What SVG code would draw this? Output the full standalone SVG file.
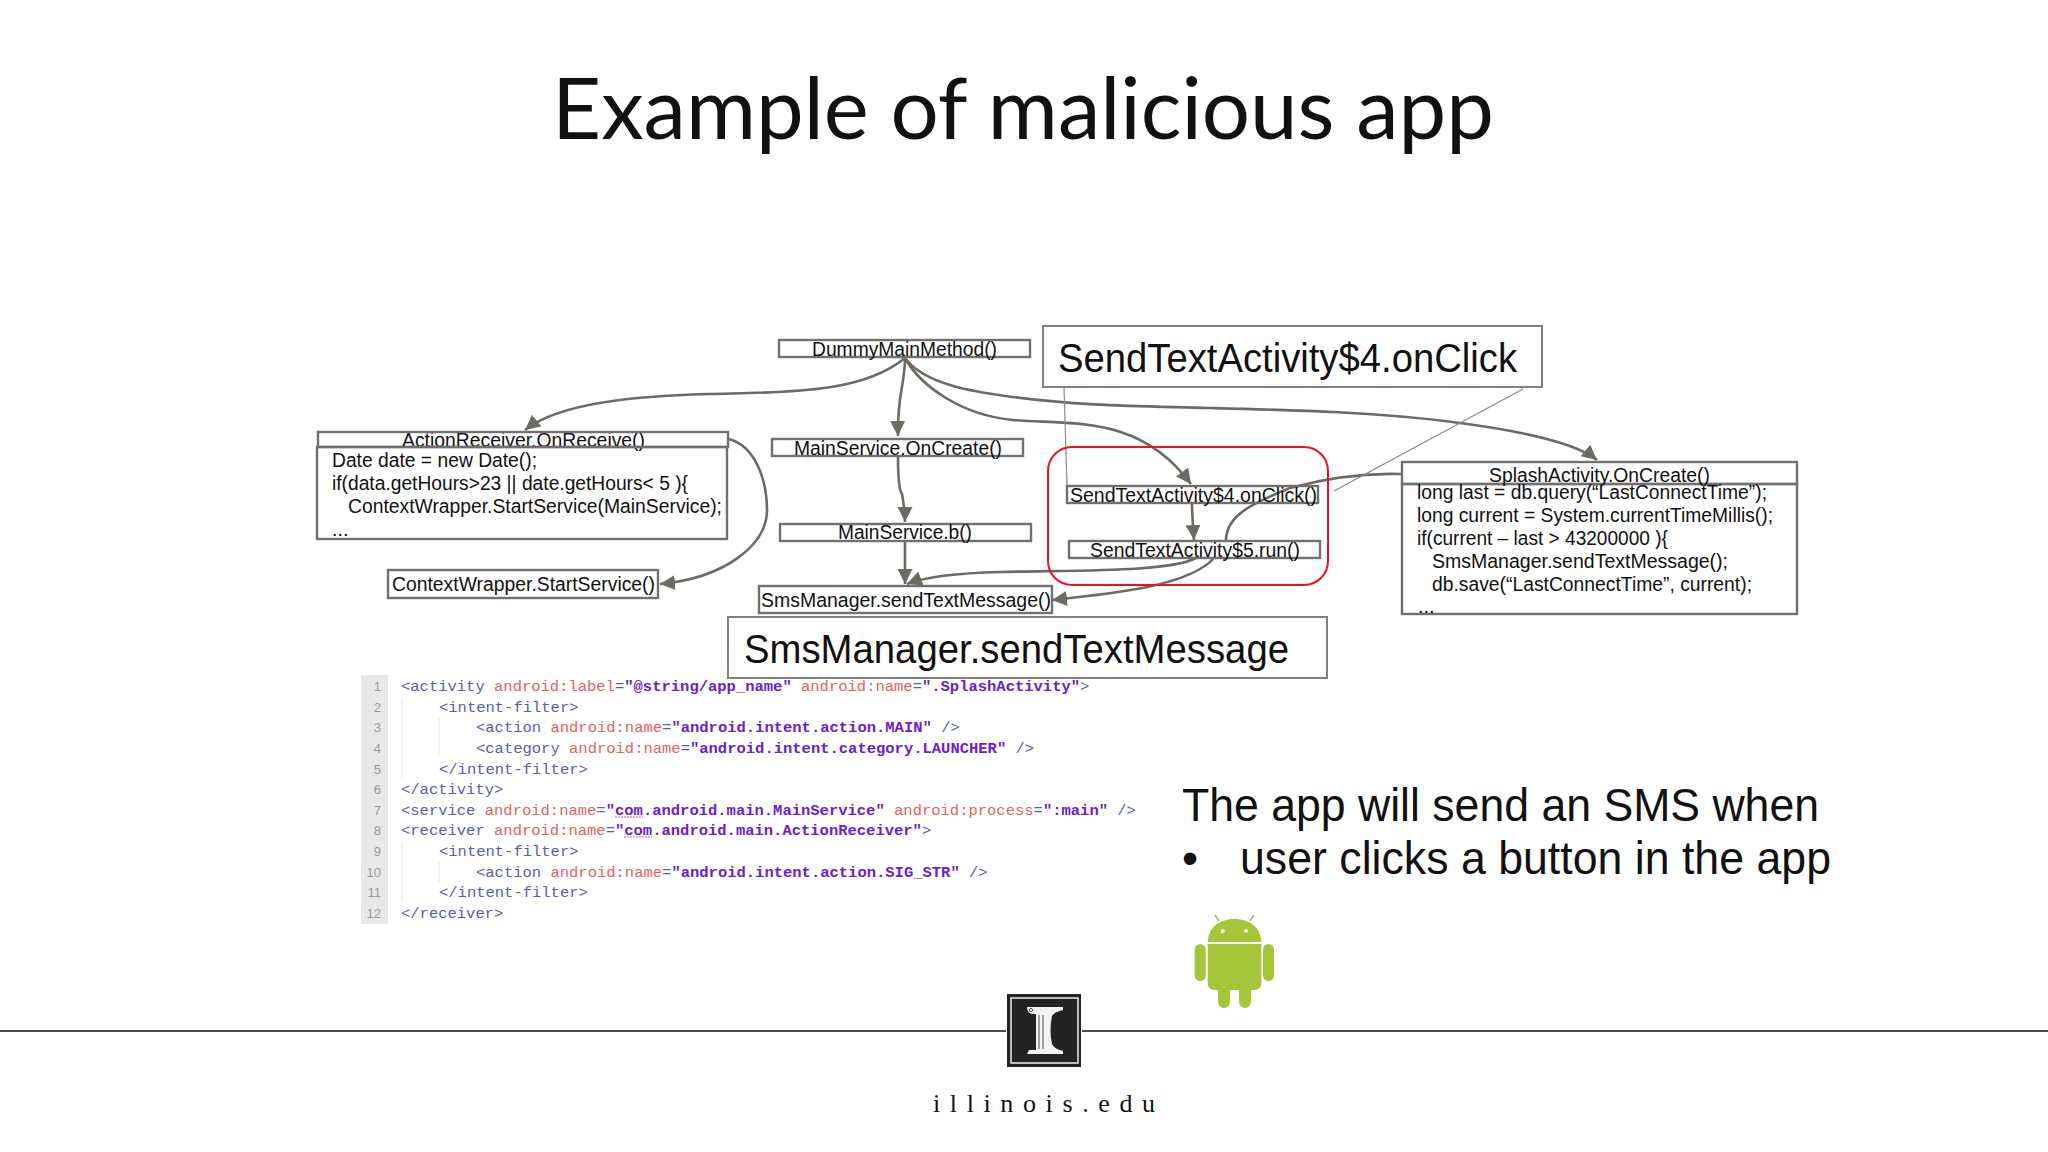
<svg xmlns="http://www.w3.org/2000/svg" width="2048" height="1152" viewBox="0 0 2048 1152">
<style>
text{font-family:"Liberation Sans",Arial,sans-serif;fill:#111}
.box{fill:none;stroke:#707070;stroke-width:2.4}
.big{fill:#fff;stroke:#808080;stroke-width:2}
.n{font-size:20px}
.lg{font-size:40px}
.p{font-size:46px}
.c{fill:none;stroke:#6b6b64;stroke-width:2.6;marker-end:url(#ah)}
.thin{fill:none;stroke:#8a8a8a;stroke-width:1.2}
.code{font-family:"Liberation Mono",monospace;font-size:15.5px;white-space:pre}
.t{fill:#5a5cae}.a{fill:#e2625f}.v{fill:#6a20d0;font-weight:bold}
.ln{font-family:"Liberation Sans",sans-serif;font-size:13px;fill:#9a9a9a;text-anchor:end}
.g{stroke:#e6e6e6;stroke-width:1;fill:none}
.sq{stroke:#e2625f;stroke-width:1.2;fill:none;stroke-dasharray:2 1}
</style>
<defs>
<marker id="ah" markerUnits="userSpaceOnUse" markerWidth="20" markerHeight="18" refX="15" refY="7.5" orient="auto">
<path d="M0 0L15 7.5L0 15Z" fill="#6b6b64"/>
</marker>
</defs>
<rect width="2048" height="1152" fill="#fff"/>
<text id="title" x="552" y="139" textLength="942" lengthAdjust="spacingAndGlyphs" style="font-family:Lato,'Open Sans',sans-serif;font-size:86px">Example of malicious app</text>

<g id="connectors">
<path class="c" d="M905 358C860 395 780 392 708 394C640 396 560 402 525 430"/>
<path class="c" d="M905 358C905 385 897 395 898 436"/>
<path class="c" d="M898 457C898 480 899 490 902 494C904 505 905 512 905 522"/>
<path class="c" d="M905 541L905 584"/>
<path class="c" d="M905 358C920 385 960 415 1013 420C1075 425 1140 415 1191 484"/>
<path class="c" d="M905 358C925 385 975 392 1013 397C1080 406 1140 406 1209 408C1290 410 1380 412 1460 423C1520 431 1575 442 1597 460"/>
<path class="c" d="M1192 503C1192 515 1193 525 1194 540"/>
<path class="c" d="M1196 558C1170 572 1080 570 1000 572C960 573 925 577 907 584"/>
<path class="c" d="M1214 558C1190 585 1120 593 1052 600"/>
<path class="c" d="M728 439C755 445 767 480 767 510C767 545 725 578 660 584" />
<path class="c" style="marker-end:none" d="M1226 540C1226 515 1255 502 1290 488C1330 477 1370 473 1401 474"/>
<path class="thin" d="M1064 387L1067 486"/>
<path class="thin" d="M1523 389L1334 491"/>
</g>

<g id="node-dummy"><rect class="box" x="779" y="340" width="251" height="17"/><text class="n" x="812" y="356" textLength="185" lengthAdjust="spacingAndGlyphs">DummyMainMethod()</text></g>
<g id="node-actionreceiver"><text class="n" x="402" y="447" textLength="243" lengthAdjust="spacingAndGlyphs">ActionReceiver.OnReceive()</text><rect class="box" x="318" y="432" width="410" height="15"/></g>
<g id="node-actionbody"><rect class="box" x="317" y="447" width="410" height="92"/>
<text class="n" x="332" y="467" textLength="205" lengthAdjust="spacingAndGlyphs">Date date = new Date();</text>
<text class="n" x="332" y="490" textLength="356" lengthAdjust="spacingAndGlyphs">if(data.getHours&gt;23 || date.getHours&lt; 5 ){</text>
<text class="n" x="348" y="513" textLength="374" lengthAdjust="spacingAndGlyphs">ContextWrapper.StartService(MainService);</text>
<text class="n" x="332" y="536">...</text></g>
<g id="node-context"><rect class="box" x="388" y="570" width="270" height="28"/><text class="n" x="392" y="591" textLength="263" lengthAdjust="spacingAndGlyphs">ContextWrapper.StartService()</text></g>
<g id="node-oncreate"><rect class="box" x="772" y="439" width="251" height="17"/><text class="n" x="794" y="455" textLength="208" lengthAdjust="spacingAndGlyphs">MainService.OnCreate()</text></g>
<g id="node-b"><rect class="box" x="780" y="524" width="251" height="17"/><text class="n" x="838" y="539" textLength="134" lengthAdjust="spacingAndGlyphs">MainService.b()</text></g>
<g id="node-sms"><rect class="box" x="759" y="586" width="293" height="27"/><text class="n" x="761" y="607" textLength="290" lengthAdjust="spacingAndGlyphs">SmsManager.sendTextMessage()</text></g>
<g id="node-sms-label"><rect class="big" x="728" y="617" width="599" height="61"/><text class="lg" x="744" y="663" textLength="545" lengthAdjust="spacingAndGlyphs">SmsManager.sendTextMessage</text></g>
<g id="node-onclick-label"><rect class="big" x="1043" y="326" width="499" height="61"/><text class="lg" x="1058" y="372" textLength="459" lengthAdjust="spacingAndGlyphs">SendTextActivity$4.onClick</text></g>
<g id="node-highlight"><rect x="1048" y="447" width="280" height="138" rx="24" ry="24" fill="none" stroke="#e8141c" stroke-width="2"/></g>
<g id="node-onclick"><rect class="box" x="1067" y="486" width="251" height="17"/><text class="n" x="1070" y="502" textLength="247" lengthAdjust="spacingAndGlyphs">SendTextActivity$4.onClick()</text></g>
<g id="node-run"><rect class="box" x="1069" y="541" width="251" height="17"/><text class="n" x="1090" y="557" textLength="210" lengthAdjust="spacingAndGlyphs">SendTextActivity$5.run()</text></g>
<g id="node-splash"><rect class="box" x="1402" y="462" width="395" height="22"/><rect class="box" x="1402" y="484" width="395" height="130"/>
<text class="n" x="1489" y="482" textLength="221" lengthAdjust="spacingAndGlyphs">SplashActivity.OnCreate()</text>
<text class="n" x="1417" y="499" textLength="350" lengthAdjust="spacingAndGlyphs">long last = db.query(“LastConnectTime”);</text>
<text class="n" x="1417" y="522" textLength="356" lengthAdjust="spacingAndGlyphs">long current = System.currentTimeMillis();</text>
<text class="n" x="1417" y="545" textLength="251" lengthAdjust="spacingAndGlyphs">if(current – last &gt; 43200000 ){</text>
<text class="n" x="1432" y="568" textLength="296" lengthAdjust="spacingAndGlyphs">SmsManager.sendTextMessage();</text>
<text class="n" x="1432" y="591" textLength="320" lengthAdjust="spacingAndGlyphs">db.save(“LastConnectTime”, current);</text>
<text class="n" x="1418" y="613">...</text></g>

<g id="code">
<rect x="361" y="675" width="27" height="249" fill="#e8e8e8"/>
<path class="g" d="M402 698V778M439 718V757M402 842V902M439 862V882"/>
<text class="ln" x="381" y="691">1</text><text class="ln" x="381" y="712">2</text><text class="ln" x="381" y="732">3</text><text class="ln" x="381" y="753">4</text><text class="ln" x="381" y="774">5</text><text class="ln" x="381" y="794">6</text><text class="ln" x="381" y="815">7</text><text class="ln" x="381" y="835">8</text><text class="ln" x="381" y="856">9</text><text class="ln" x="381" y="877">10</text><text class="ln" x="381" y="897">11</text><text class="ln" x="381" y="918">12</text>
<text class="code" x="401" y="691"><tspan class="t">&lt;activity</tspan> <tspan class="a">android:label</tspan><tspan class="t">=</tspan><tspan class="v">"@string/app_name"</tspan> <tspan class="a">android:name</tspan><tspan class="t">=</tspan><tspan class="v">".SplashActivity"</tspan><tspan class="t">&gt;</tspan></text>
<text class="code" x="439" y="712"><tspan class="t">&lt;intent-filter&gt;</tspan></text>
<text class="code" x="476" y="732"><tspan class="t">&lt;action</tspan> <tspan class="a">android:name</tspan><tspan class="t">=</tspan><tspan class="v">"android.intent.action.MAIN"</tspan> <tspan class="t">/&gt;</tspan></text>
<text class="code" x="476" y="753"><tspan class="t">&lt;category</tspan> <tspan class="a">android:name</tspan><tspan class="t">=</tspan><tspan class="v">"android.intent.category.LAUNCHER"</tspan> <tspan class="t">/&gt;</tspan></text>
<text class="code" x="439" y="774"><tspan class="t">&lt;/intent-filter&gt;</tspan></text>
<text class="code" x="401" y="794"><tspan class="t">&lt;/activity&gt;</tspan></text>
<text class="code" x="401" y="815"><tspan class="t">&lt;service</tspan> <tspan class="a">android:name</tspan><tspan class="t">=</tspan><tspan class="v">"com.android.main.MainService"</tspan> <tspan class="a">android:process</tspan><tspan class="t">=</tspan><tspan class="v">":main"</tspan> <tspan class="t">/&gt;</tspan></text>
<text class="code" x="401" y="835"><tspan class="t">&lt;receiver</tspan> <tspan class="a">android:name</tspan><tspan class="t">=</tspan><tspan class="v">"com.android.main.ActionReceiver"</tspan><tspan class="t">&gt;</tspan></text>
<text class="code" x="439" y="856"><tspan class="t">&lt;intent-filter&gt;</tspan></text>
<text class="code" x="476" y="877"><tspan class="t">&lt;action</tspan> <tspan class="a">android:name</tspan><tspan class="t">=</tspan><tspan class="v">"android.intent.action.SIG_STR"</tspan> <tspan class="t">/&gt;</tspan></text>
<text class="code" x="439" y="897"><tspan class="t">&lt;/intent-filter&gt;</tspan></text>
<text class="code" x="401" y="918"><tspan class="t">&lt;/receiver&gt;</tspan></text>
<path class="sq" d="M615 817H643M624 837H652"/>
</g>

<g id="bullets">
<text class="p" x="1182" y="821" textLength="637" lengthAdjust="spacingAndGlyphs">The app will send an SMS when</text>
<text class="p" x="1182" y="874">•</text>
<text class="p" x="1240" y="874" textLength="591" lengthAdjust="spacingAndGlyphs">user clicks a button in the app</text>
</g>

<g id="android" fill="#a4c639">
<path d="M1207.7 942C1208 928 1219 919 1234.5 919C1250 919 1261 928 1261.3 942Z"/>
<path d="M1219 921L1215 915M1250 921L1254 915" stroke="#a4c639" stroke-width="1.6"/>
<circle cx="1222.7" cy="931" r="2" fill="#fff"/><circle cx="1246" cy="931" r="2" fill="#fff"/>
<path d="M1207.7 944H1261.3V983Q1261.3 990 1254 990H1251V1002A6 6 0 0 1 1239 1002V990H1230V1002A6 6 0 0 1 1218 1002V990H1215Q1207.7 990 1207.7 983Z"/>
<rect x="1194.7" y="944" width="11" height="37" rx="5.5"/><rect x="1263" y="944" width="11" height="37" rx="5.5"/>
</g>

<g id="footer">
<path d="M0 1031H1006M1082 1031H2048" stroke="#111" stroke-width="1.5"/>
<rect x="1007" y="994" width="74" height="73" fill="#232323"/>
<rect x="1011" y="998" width="67" height="65" fill="none" stroke="#eee" stroke-width="1.5"/>
<path d="M1027 1007H1063V1010Q1054 1012 1052 1016Q1049 1030 1052 1044Q1054 1049 1063 1051V1054H1027L1029 1050H1036V1014H1033Q1027 1014 1027 1007Z" fill="#f2f2f2"/>
<path d="M1039 1015V1049M1043 1015V1049" stroke="#555" stroke-width="1"/>
<circle cx="1031" cy="1010" r="1.6" fill="none" stroke="#555" stroke-width="1"/>
<text x="933" y="1112" textLength="222" style="font-family:'Liberation Serif',serif;font-size:26px" fill="#222">illinois.edu</text>
</g>
</svg>
